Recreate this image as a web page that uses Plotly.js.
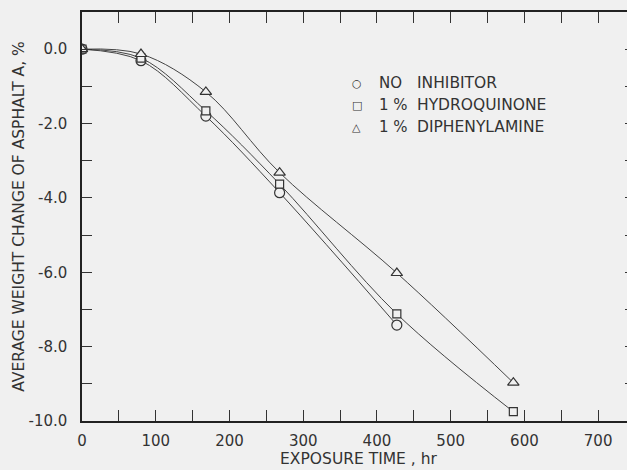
<!DOCTYPE html>
<html>
<head>
<meta charset="utf-8">
<script src="https://cdn.plot.ly/plotly-3.0.1.min.js"></script>
<style>
html,body{margin:0;padding:0;background:#f0f0f0;overflow:hidden;width:627px;height:470px;}
#chart{width:640px;height:470px;}
</style>
</head>
<body>
<div id="chart"></div>
<script>
// Exposure time, hr
const timeNone = [0, 80, 168, 268, 427];
const timeHydro = [0, 80, 168, 268, 427, 585];
const timeDiph = [0, 80, 168, 268, 427, 585];
// Average weight change, %
const noInhibitor = [0, -0.31, -1.80, -3.86, -7.42];
const hydroquinone = [0, -0.24, -1.66, -3.63, -7.12, -9.75];
const diphenylamine = [0, -0.13, -1.15, -3.32, -6.02, -8.97];

const xTickVals = [0,50,100,150,200,250,300,350,400,450,500,550,600,650,700,750];
const xTickText = ['0','','100','','200','','300','','400','','500','','600','','700',''];
const yTickVals = [1,0,-1,-2,-3,-4,-5,-6,-7,-8,-9,-10];
const yTickText = ['','0.0','','-2.0','','-4.0','','-6.0','','-8.0','','-10.0'];

const legendSymbols = ['○','□','△'];
const legendPct = ['NO','1 %','1 %'];
const legendNames = ['INHIBITOR','HYDROQUINONE','DIPHENYLAMINE'];

const ink = '#333';
const bg = '#f0f0f0';
const font = 'DejaVu Sans, sans-serif';

function series(x, y, symbol, size) {
  return {
    x: x, y: y, type: 'scatter', mode: 'lines+markers',
    line: {color: '#444', width: 1, shape: 'spline', smoothing: 1},
    marker: {symbol: symbol, size: size, color: bg, line: {color: ink, width: 1.2}},
    showlegend: false, hoverinfo: 'skip'
  };
}

const data = [
  series(timeNone, noInhibitor, 'circle', 10),
  series(timeHydro, hydroquinone, 'square', 8),
  series(timeDiph, diphenylamine, 'triangle-up', 10)
];

const annotations = [];
const rowY = [0.826, 0.772, 0.718];
for (let i = 0; i < 3; i++) {
  annotations.push({xref:'paper', yref:'paper', x:0.497, y:rowY[i], text:legendSymbols[i], showarrow:false, xanchor:'center', yanchor:'middle', font:{family:font, size:11, color:ink}});
  annotations.push({xref:'paper', yref:'paper', x:0.533, y:rowY[i], text:legendPct[i], showarrow:false, xanchor:'left', yanchor:'middle', font:{family:font, size:15, color:ink}});
  annotations.push({xref:'paper', yref:'paper', x:0.603, y:rowY[i], text:legendNames[i], showarrow:false, xanchor:'left', yanchor:'middle', font:{family:font, size:15.5, color:ink}});
}

const layout = {
  width: 640, height: 470,
  margin: {l: 82, r: 5, t: 12, b: 49},
  paper_bgcolor: bg, plot_bgcolor: bg,
  font: {family: font, color: ink},
  xaxis: {
    range: [0, 750], tickmode: 'array', tickvals: xTickVals, ticktext: xTickText,
    ticks: 'inside', ticklen: 11, tickwidth: 1, tickcolor: ink,
    showline: true, linecolor: '#222', linewidth: 1.6, mirror: 'ticks',
    showgrid: false, zeroline: false, ticklabelstandoff: 5,
    tickfont: {size: 15, color: ink},
    title: {text: 'EXPOSURE TIME , hr', font: {size: 15.5, color: ink}, standoff: 4}
  },
  yaxis: {
    range: [-10, 1], tickmode: 'array', tickvals: yTickVals, ticktext: yTickText,
    ticks: 'inside', ticklen: 10, tickwidth: 1, tickcolor: ink,
    showline: true, linecolor: '#222', linewidth: 1.6, mirror: 'ticks',
    showgrid: false, zeroline: false, ticklabelstandoff: 10,
    tickfont: {size: 15, color: ink},
    title: {text: 'AVERAGE WEIGHT CHANGE OF ASPHALT A, %', font: {size: 15.5, color: ink}, standoff: 0}
  },
  annotations: annotations
};

Plotly.newPlot('chart', data, layout, {displayModeBar: false, staticPlot: true});
</script>
</body>
</html>
